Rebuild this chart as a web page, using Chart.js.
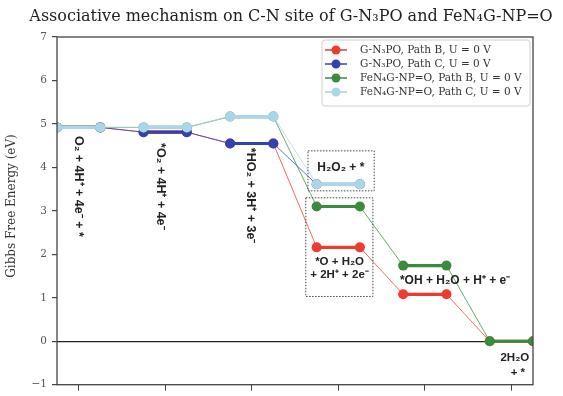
<!DOCTYPE html>
<html>
<head>
<meta charset="utf-8">
<script src="https://cdn.jsdelivr.net/npm/chart.js@4.4.1/dist/chart.umd.min.js"></script>
<style>
  html, body { margin: 0; padding: 0; background: #fff; overflow: hidden; }
  #wrap { width: 563px; height: 396px; }
</style>
</head>
<body>
<div id="wrap"><canvas id="c" width="563" height="396"></canvas></div>
<script>
// Free-energy levels (eV) of each intermediate, one value per reaction step
const chartTitle = 'Associative mechanism on C-N site of G-N₃PO and FeN₄G-NP=O';
const yAxisTitle = 'Gibbs Free Energy (eV)';
const seriesNames = [
  'G-N₃PO, Path B, U = 0 V',
  'G-N₃PO, Path C, U = 0 V',
  'FeN₄G-NP=O, Path B, U = 0 V',
  'FeN₄G-NP=O, Path C, U = 0 V'
];
const gn3poPathB = [4.92, 4.81, 4.55, 2.16, 1.08, 0.00];
const gn3poPathC = [4.92, 4.81, 4.55, 3.61, null, null];
const fen4PathB  = [4.92, 4.92, 5.17, 3.10, 1.74, 0.00];
const fen4PathC  = [4.92, 4.92, 5.17, 3.61, null, null];
const yTickValues = [-1, 0, 1, 2, 3, 4, 5, 6, 7];
const stepLabels = [
  ['O₂ + 4H⁺ + 4e⁻ + *'],
  ['*O₂ + 4H⁺ + 4e⁻'],
  ['*HO₂ + 3H⁺ + 3e⁻'],
  ['H₂O₂ + *'],
  ['*O + H₂O', '+ 2H⁺ + 2e⁻'],
  ['*OH + H₂O + H⁺ + e⁻'],
  ['2H₂O', '+ *']
];

const colors = ['#ee3a2f', '#3242b0', '#3a8b3c', '#a9d6e8'];
const seriesValues = [gn3poPathB, gn3poPathC, fen4PathB, fen4PathC];

// each step is a flat level from x = 2k to x = 2k + 1
function levelPoints(values) {
  const pts = [];
  values.forEach((v, k) => {
    if (v === null) return;
    pts.push({ x: 2 * k, y: v }, { x: 2 * k + 1, y: v });
  });
  return pts;
}

function withAlpha(hex, a) {
  const n = parseInt(hex.slice(1), 16);
  return `rgba(${(n >> 16) & 255},${(n >> 8) & 255},${n & 255},${a})`;
}

const datasets = seriesValues.map((vals, i) => ({
  label: seriesNames[i],
  data: levelPoints(vals),
  borderColor: colors[i],
  backgroundColor: colors[i],
  pointBackgroundColor: colors[i],
  pointBorderWidth: 0,
  pointRadius: 5,
  pointHoverRadius: 5,
  borderWidth: 3,
  order: 4 - i,
  clip: 0,
  segment: {
    borderWidth: ctx => (ctx.p0DataIndex % 2 === 0 ? 3.2 : 1),
    borderColor: ctx => (ctx.p0DataIndex % 2 === 0 ? colors[i] : withAlpha(colors[i], 0.75))
  }
}));

const SERIF = '"DejaVu Serif", serif';
const SANS = '"Liberation Sans", Arial, sans-serif';

const decorations = {
  id: 'decorations',
  afterDraw(chart) {
    const { ctx, chartArea: a, scales } = chart;
    const X = v => scales.x.getPixelForValue(v);
    const Y = v => scales.y.getPixelForValue(v);
    ctx.save();

    // title
    ctx.fillStyle = '#222';
    ctx.font = `16px ${SERIF}`;
    ctx.textAlign = 'center';
    ctx.textBaseline = 'middle';
    ctx.fillText(chartTitle, 291, 17);

    // y-axis title
    ctx.save();
    ctx.translate(12, 206);
    ctx.rotate(-Math.PI / 2);
    ctx.font = `12px ${SERIF}`;
    ctx.fillStyle = '#333';
    ctx.fillText(yAxisTitle, 0, 0);
    ctx.restore();

    // frame
    ctx.strokeStyle = '#444';
    ctx.lineWidth = 1.3;
    ctx.strokeRect(a.left, a.top, a.right - a.left, a.bottom - a.top);

    // state labels
    ctx.fillStyle = '#222';
    ctx.font = `bold 12.5px ${SANS}`;
    const vertical = [[0.49, 4.72], [2.40, 4.56], [4.48, 4.45]];
    vertical.forEach(([x, y], k) => {
      ctx.save();
      ctx.translate(X(x), Y(y));
      ctx.rotate(Math.PI / 2);
      ctx.textAlign = 'left';
      ctx.textBaseline = 'middle';
      ctx.fillText(stepLabels[k][0], 0, 0);
      ctx.restore();
    });

    ctx.textAlign = 'center';
    ctx.textBaseline = 'middle';
    ctx.font = `bold 12px ${SANS}`;
    ctx.fillText(stepLabels[3][0], X(6.56), Y(4.0));
    ctx.font = `bold 11.5px ${SANS}`;
    ctx.fillText(stepLabels[4][0], X(6.53), Y(1.82));
    ctx.fillText(stepLabels[4][1], X(6.53), Y(1.53));
    ctx.font = `bold 12px ${SANS}`;
    ctx.fillText(stepLabels[5][0], X(9.2), Y(1.39));
    ctx.font = `bold 11.5px ${SANS}`;
    ctx.fillText(stepLabels[6][0], X(10.58), Y(-0.38));
    ctx.fillText(stepLabels[6][1], X(10.65), Y(-0.72));

    // dotted boxes around the H2O2 and *O states
    ctx.setLineDash([1.5, 1.5]);
    ctx.strokeStyle = '#444';
    ctx.lineWidth = 1;
    [[5.80, 7.33, 4.38, 3.46], [5.75, 7.30, 3.30, 1.03]].forEach(([x0, x1, y0, y1]) => {
      ctx.strokeRect(X(x0), Y(y0), X(x1) - X(x0), Y(y1) - Y(y0));
    });
    ctx.setLineDash([]);

    // legend
    const lx = 322, ly = 40, lw = 208, lh = 66;
    ctx.fillStyle = 'rgba(255,255,255,0.9)';
    ctx.strokeStyle = '#cfcfcf';
    ctx.lineWidth = 1;
    ctx.beginPath();
    ctx.roundRect(lx, ly, lw, lh, 3);
    ctx.fill();
    ctx.stroke();
    ctx.font = `10.5px ${SERIF}`;
    ctx.textAlign = 'left';
    chart.data.datasets.forEach((ds, i) => {
      const ry = 50 + i * 14;
      ctx.strokeStyle = ds.borderColor;
      ctx.lineWidth = 1.5;
      ctx.beginPath();
      ctx.moveTo(325, ry);
      ctx.lineTo(347, ry);
      ctx.stroke();
      ctx.fillStyle = ds.borderColor;
      ctx.beginPath();
      ctx.arc(336, ry, 4.5, 0, Math.PI * 2);
      ctx.fill();
      ctx.fillStyle = '#333';
      ctx.fillText(ds.label, 360, ry + 0.5);
    });
    ctx.restore();
  }
};

new Chart(document.getElementById('c'), {
  type: 'line',
  data: { datasets },
  options: {
    responsive: false,
    animation: false,
    devicePixelRatio: 1,
    layout: { padding: { top: 37, right: 30, left: 0, bottom: 0 } },
    plugins: { legend: { display: false }, title: { display: false }, tooltip: { enabled: false } },
    scales: {
      x: {
        type: 'linear',
        min: 0,
        max: 11,
        afterBuildTicks: s => { s.ticks = [0.5, 2.5, 4.5, 6.5, 8.5, 10.5].map(v => ({ value: v })); },
        afterFit: s => { s.height = 3; },
        ticks: { display: false },
        border: { display: false },
        grid: { drawOnChartArea: false, drawTicks: true, tickLength: 6, color: '#444', tickColor: '#444' }
      },
      y: {
        min: -1,
        max: 7,
        afterBuildTicks: s => { s.ticks = yTickValues.map(v => ({ value: v })); },
        afterFit: s => { s.width = 57; },
        border: { display: false },
        ticks: {
          color: '#555',
          padding: 5,
          font: { family: SERIF, size: 10.5 },
          callback: v => String(v).replace('-', '−')
        },
        grid: {
          drawTicks: true,
          tickLength: 5,
          tickColor: '#444',
          color: ctx => (ctx.tick && ctx.tick.value === 0 ? '#222' : 'rgba(0,0,0,0)'),
          lineWidth: 1.2
        }
      }
    }
  },
  plugins: [decorations]
});
</script>
</body>
</html>
